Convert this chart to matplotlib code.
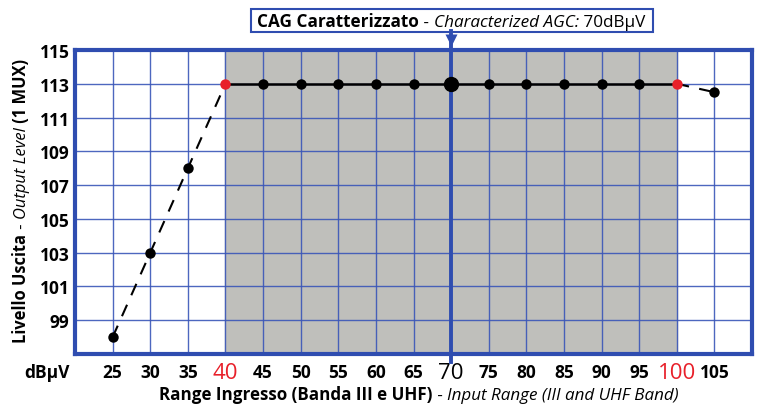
import matplotlib
matplotlib.use('Agg')
import matplotlib.pyplot as plt
from matplotlib.patches import Rectangle

plt.rcParams['font.family'] = ['Open Sans', 'DejaVu Sans']

# data
input_level = [25, 30, 35, 40, 45, 50, 55, 60, 65, 70, 75, 80, 85, 90, 95, 100, 105]
output_level = [98, 103, 108, 113, 113, 113, 113, 113, 113, 113, 113, 113, 113, 113, 113, 113, 112.5]
agc_start = 40
agc_end = 100
agc_value = 70
x_ticks = [25, 30, 35, 40, 45, 50, 55, 60, 65, 70, 75, 80, 85, 90, 95, 100, 105]
y_ticks = [99, 101, 103, 105, 107, 109, 111, 113, 115]

blue = '#2f4db0'
grid_blue = '#3a56b8'
red = '#e8202a'

fig = plt.figure(figsize=(7.61, 4.06), dpi=100)
ax = fig.add_axes([0.0986, 0.1256, 0.8896, 0.7488])
ax.set_xlim(20, 110)
ax.set_ylim(97, 115)
renderer = fig.canvas.get_renderer()


def piece_width(s, **kw):
    t = fig.text(0, 0, '|' + s + '|', **kw)
    w1 = t.get_window_extent(renderer).width
    t.remove()
    t = fig.text(0, 0, '||', **kw)
    w2 = t.get_window_extent(renderer).width
    t.remove()
    return w1 - w2


def rich_text(parts, cx, cy, span, rotation=0):
    # parts (text, style) placed one after another on one baseline,
    # one font size for all, chosen so the whole line is `span` pixels long
    widths = [piece_width(s, fontsize=10, **kw) for s, kw in parts]
    size = 10 * span / sum(widths)
    widths = [w * size / 10 for w in widths]
    pos = -span / 2
    for (s, kw), w in zip(parts, widths):
        if rotation == 0:
            fig.text(cx + pos, cy, s, ha='left', va='baseline', transform=None,
                     fontsize=size, **kw)
        else:
            fig.text(cx, cy + pos, s, rotation=90, rotation_mode='anchor',
                     ha='left', va='baseline', transform=None, fontsize=size, **kw)
        pos += w


ax.axvspan(agc_start, agc_end, color='#bfbfbb', zorder=0)

# grid
for x in x_ticks:
    ax.axvline(x, color=grid_blue, lw=1, alpha=0.9, zorder=1)
for y in y_ticks:
    ax.axhline(y, color=grid_blue, lw=1, alpha=0.9, zorder=1)

# lines
i0 = input_level.index(agc_start)
i1 = input_level.index(agc_end)
ax.plot(input_level[:i0 + 1], output_level[:i0 + 1], color='black', lw=1.5,
        ls=(0, (6, 5)), zorder=3)
ax.plot(input_level[i1:], output_level[i1:], color='black', lw=1.5,
        ls=(0, (6, 5)), zorder=3)
ax.plot(input_level[i0:i1 + 1], output_level[i0:i1 + 1], color='black', lw=1.8, zorder=3)

# markers
for x, y in zip(input_level, output_level):
    if x in (agc_start, agc_end):
        ax.plot(x, y, 'o', color=red, ms=7.5, mec='none', zorder=5)
    elif x == agc_value:
        ax.plot(x, y, 'o', color='black', ms=10, zorder=5)
    else:
        ax.plot(x, y, 'o', color='black', ms=7.5, mec='none', zorder=5)

# AGC vertical line and label
ax.plot([agc_value, agc_value], [96.55, 116.1], color=blue, lw=2.8, clip_on=False, zorder=4)
ax.plot(agc_value, 115.6, marker='v', color=blue, ms=9, mec='none', clip_on=False, zorder=6)

for side in ['left', 'right', 'top', 'bottom']:
    ax.spines[side].set_color(blue)
    ax.spines[side].set_linewidth(3)
    ax.spines[side].set_zorder(7)

ax.set_yticks(y_ticks)
ax.set_yticklabels([str(v) for v in y_ticks], fontsize=12.5, fontweight='bold')
ax.set_xticks(x_ticks)
ax.set_xticklabels([str(v) for v in x_ticks], fontsize=12.5, fontweight='bold', va='center')
for lab, v in zip(ax.get_xticklabels(), x_ticks):
    if v in (agc_start, agc_end):
        lab.set_color(red)
        lab.set_fontweight('normal')
        lab.set_fontsize(16)
    elif v == agc_value:
        lab.set_fontweight('normal')
        lab.set_fontsize(16)
ax.tick_params(length=0)
ax.tick_params(axis='x', pad=13)
ax.tick_params(axis='y', pad=4)

fig.text(47 / 761, 1 - 373 / 406, 'dBµV', fontsize=12.5, fontweight='bold', ha='center', va='center')

# title box
cx = ax.transData.transform((agc_value, 0))[0]
rich_text([('CAG Caratterizzato', dict(fontweight='bold')),
           (' - ', dict()),
           ('Characterized AGC:', dict(style='italic')),
           (' 70dBµV', dict())],
          cx, 406 - 27.5, 388)
fig.add_artist(Rectangle((cx - 200, 406 - 33), 402, 23, transform=None,
                         fc='white', ec=blue, lw=1.5, zorder=-1))

# axis labels
rich_text([('Range Ingresso (Banda III e UHF)', dict(fontweight='bold')),
           (' - ', dict()),
           ('Input Range (III and UHF Band)', dict(style='italic'))],
          419, 5.5, 520)
rich_text([('Livello Uscita', dict(fontweight='bold')),
           (' - ', dict()),
           ('Output Level', dict(style='italic')),
           (' (1 MUX)', dict(fontweight='bold'))],
          26, 205, 284, rotation=90)

fig.savefig('out.png', dpi=100)
